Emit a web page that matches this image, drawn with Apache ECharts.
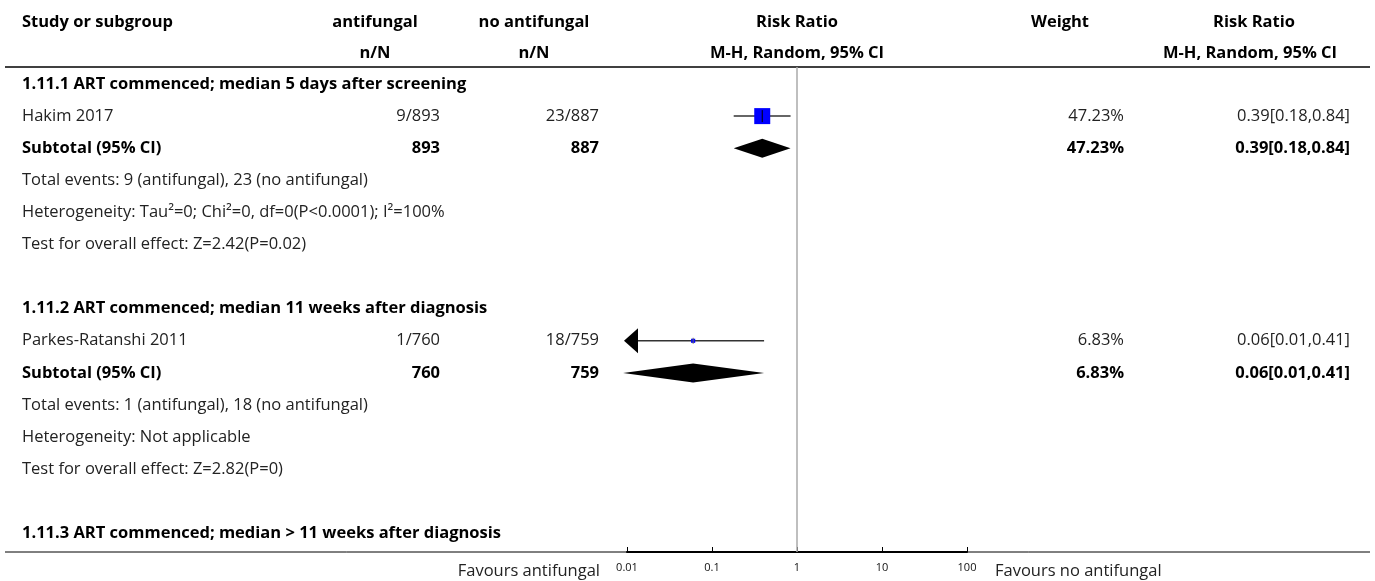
<!DOCTYPE html>
<html><head><meta charset="utf-8">
<script src="https://cdn.jsdelivr.net/npm/echarts@6/dist/echarts.min.js"></script>
<style>html,body{margin:0;padding:0;background:#fff}#c{width:1375px;height:581px}</style>
</head><body><div id="c"></div>
<script>
// ---- data ----
const groupTitles = [
  '1.11.1 ART commenced; median 5 days after screening',
  '1.11.2 ART commenced; median 11 weeks after diagnosis',
  '1.11.3 ART commenced; median > 11 weeks after diagnosis'
];
const studyNames = ['Hakim 2017', 'Parkes-Ratanshi 2011'];
const expEvents = ['9/893', '1/760'];
const ctrlEvents = ['23/887', '18/759'];
const rrEst = [0.39, 0.06];
const rrLow = [0.18, 0.009];
const rrHigh = [0.84, 0.41];
const weights = [47.23, 6.83];
const weightText = ['47.23%', '6.83%'];
const ciText = ['0.39[0.18,0.84]', '0.06[0.01,0.41]'];
const subExpN = ['893', '760'];
const subCtrlN = ['887', '759'];
const subEst = [0.39, 0.06];
const subLow = [0.18, 0.009];
const subHigh = [0.84, 0.41];
const totalEventsText = ['Total events: 9 (antifungal), 23 (no antifungal)', 'Total events: 1 (antifungal), 18 (no antifungal)'];
const heterogeneityText = ['Heterogeneity: Tau\u00B2=0; Chi\u00B2=0, df=0(P<0.0001); I\u00B2=100%', 'Heterogeneity: Not applicable'];
const overallText = ['Test for overall effect: Z=2.42(P=0.02)', 'Test for overall effect: Z=2.82(P=0)'];
const axisTicks = [0.01, 0.1, 1, 10, 100];
const favoursLeft = 'Favours antifungal';
const favoursRight = 'Favours no antifungal';

// ---- layout ----
const FONT = '"Open Sans"';
const FS = 16.5;
const ROWS_PER_GROUP = 7;
const AXMIN = axisTicks[0], AXMAX = axisTicks[axisTicks.length - 1];

const chart = echarts.init(document.getElementById('c'), null, {renderer: 'canvas'});

const studyData = studyNames.map((n, i) => [rrEst[i], rrLow[i], rrHigh[i], i * ROWS_PER_GROUP + 1, weights[i]]);
const subData = subEst.map((e, i) => [e, subLow[i], subHigh[i], i * ROWS_PER_GROUP + 2]);
const maxW = Math.max(...weights);

chart.setOption({
  animation: false,
  grid: {left: 627, width: 340, top: 67, height: 485, containLabel: false},
  xAxis: {
    type: 'log', logBase: 10, min: AXMIN, max: AXMAX, position: 'bottom',
    axisLine: {onZero: false, lineStyle: {color: '#000', width: 2}},
    axisTick: {inside: true, length: 5, lineStyle: {color: '#000', width: 1}},
    axisLabel: {color: '#111', fontSize: 11, fontFamily: FONT, margin: 10,
      formatter: v => String(+v.toPrecision(3))},
    splitLine: {show: false}
  },
  yAxis: {type: 'value', inverse: true, min: -0.53, max: 14.58, show: false},
  series: [
    {
      type: 'line', data: [], silent: true,
      markLine: {silent: true, symbol: 'none', label: {show: false},
        lineStyle: {color: '#aaa', width: 1.5, type: 'solid'},
        data: [{xAxis: 1}]}
    },
    {
      type: 'custom', data: studyData, silent: true, clip: false,
      renderItem: (params, api) => {
        const est = api.value(0), lo = api.value(1), hi = api.value(2), row = api.value(3), w = api.value(4);
        const y = api.coord([1, row])[1];
        const xMin = api.coord([AXMIN, row])[0];
        const xc = api.coord([est, row])[0];
        const xh = api.coord([Math.min(hi, AXMAX), row])[0];
        const clipped = lo < AXMIN;
        const xl = clipped ? xMin : api.coord([lo, row])[0];
        const side = 16 * Math.pow(w / maxW, 0.7);
        const children = [
          {type: 'line', shape: {x1: xl, y1: y, x2: xh, y2: y}, style: {stroke: '#333', lineWidth: 1.5}},
          {type: 'rect', shape: {x: xc - side / 2, y: y - side / 2, width: side, height: side}, style: {fill: '#0000ff'}},
          {type: 'line', shape: {x1: xc, y1: y - Math.max(side / 2 - 2, 3), x2: xc, y2: y + Math.max(side / 2 - 2, 3)}, style: {stroke: side > 8 ? '#000' : '#666', lineWidth: 1}}
        ];
        if (clipped) {
          children.push({type: 'polygon', shape: {points: [[xMin - 3, y], [xMin + 11, y - 12.5], [xMin + 11, y + 12.5]]}, style: {fill: '#000'}});
        }
        return {type: 'group', children};
      }
    },
    {
      type: 'custom', data: subData, silent: true, clip: false,
      renderItem: (params, api) => {
        const est = api.value(0), lo = api.value(1), hi = api.value(2), row = api.value(3);
        const y = api.coord([1, row])[1];
        const xc = api.coord([est, row])[0];
        const xl = api.coord([lo, row])[0];
        const xh = api.coord([hi, row])[0];
        return {type: 'polygon', shape: {points: [[xl, y], [xc, y - 9.5], [xh, y], [xc, y + 9.5]]}, style: {fill: '#000'}};
      }
    }
  ]
});

// ---- text table via graphic ----
const rowY = r => chart.convertToPixel({yAxisIndex: 0}, r);
const g = [];
function txt(text, x, y, align, bold, color) {
  g.push({type: 'text', silent: true, z: 10, style: {
    text, x, y, align: align || 'left', verticalAlign: 'middle',
    font: (bold ? 'bold ' : '') + FS + 'px ' + FONT, fill: color || '#000'
  }});
}
const COL = {study: 22, exp: 440, expH: 375, ctrl: 599, ctrlH: 534, rr: 797, wt: 1124, wtH: 1060, ci: 1350, ciH1: 1254, ciH2: 1250};
const NC = '#222';
// header
const hy1 = 22, hy2 = 53;
txt('Study or subgroup', COL.study, hy1, 'left', true);
txt('antifungal', COL.expH, hy1, 'center', true);
txt('n/N', COL.expH, hy2, 'center', true);
txt('no antifungal', COL.ctrlH, hy1, 'center', true);
txt('n/N', COL.ctrlH, hy2, 'center', true);
txt('Risk Ratio', COL.rr, hy1, 'center', true);
txt('M-H, Random, 95% CI', COL.rr, hy2, 'center', true);
txt('Weight', COL.wtH, hy1, 'center', true);
txt('Risk Ratio', COL.ciH1, hy1, 'center', true);
txt('M-H, Random, 95% CI', COL.ciH2, hy2, 'center', true);

groupTitles.forEach((t, gi) => txt(t, COL.study, rowY(gi * ROWS_PER_GROUP), 'left', true));
studyNames.forEach((n, i) => {
  const b = i * ROWS_PER_GROUP;
  const ys = rowY(b + 1), yt = rowY(b + 2);
  txt(n, COL.study, ys, 'left', false, NC);
  txt(expEvents[i], COL.exp, ys, 'right', false, NC);
  txt(ctrlEvents[i], COL.ctrl, ys, 'right', false, NC);
  txt(weightText[i], COL.wt, ys, 'right', false, NC);
  txt(ciText[i], COL.ci, ys, 'right', false, NC);
  txt('Subtotal (95% CI)', COL.study, yt, 'left', true);
  txt(subExpN[i], COL.exp, yt, 'right', true);
  txt(subCtrlN[i], COL.ctrl, yt, 'right', true);
  txt(weightText[i], COL.wt, yt, 'right', true);
  txt(ciText[i], COL.ci, yt, 'right', true);
  txt(totalEventsText[i], COL.study, rowY(b + 3), 'left', false, NC);
  txt(heterogeneityText[i], COL.study, rowY(b + 4), 'left', false, NC);
  txt(overallText[i], COL.study, rowY(b + 5), 'left', false, NC);
});
// favours labels
const axisY = rowY(14.58);
txt(favoursLeft, 600, axisY + 19, 'right', false, NC);
txt(favoursRight, 995, axisY + 19, 'left', false, NC);
// rules
g.push({type: 'line', silent: true, shape: {x1: 5, y1: 67, x2: 1370, y2: 67}, style: {stroke: '#000', lineWidth: 1.5}});
g.push({type: 'line', silent: true, shape: {x1: 5, y1: axisY, x2: 1370, y2: axisY}, style: {stroke: '#000', lineWidth: 1}});

chart.setOption({graphic: g});
</script></body></html>
